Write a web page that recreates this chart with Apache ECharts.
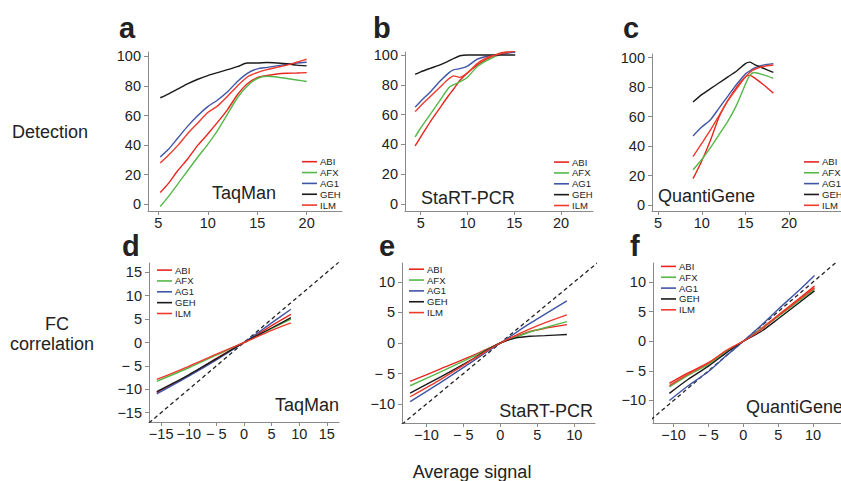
<!DOCTYPE html>
<html>
<head>
<meta charset="utf-8">
<script src="https://cdn.jsdelivr.net/npm/echarts@6/dist/echarts.min.js"></script>
<style>html,body{margin:0;padding:0;background:#fff}#c{width:841px;height:481px}</style>
</head>
<body>
<div id="c"></div>
<script>
// ---------- data ----------
const platforms = ['ABI', 'AFX', 'AG1', 'GEH', 'ILM'];

// a: TaqMan detection
const aX   = [5.2, 6, 7, 8, 9, 10, 11, 12, 13, 14, 15, 16, 17, 18, 19, 20];
const aABI = [8, 14, 23, 31, 40, 47.5, 55.5, 64, 74, 81.5, 85.5, 87, 88, 88.5, 88.7, 89];
const aAFX = [-1.5, 5, 14, 23, 32, 40.5, 50, 61, 72, 80, 85, 86.5, 86, 85, 84, 83];
const aAG1 = [32, 37, 45, 53, 60, 66, 70.5, 76, 83, 88.5, 91.5, 92.5, 93.5, 94.5, 95.5, 96];
const aGEH = [72, 74.5, 78, 81.5, 84.5, 87, 89, 91, 93, 95.5, 95.5, 95.8, 95.5, 95, 94, 93.5];
const aILM = [28, 33, 40, 48, 55, 62, 66.5, 73, 80, 86, 89, 91, 92.5, 94, 96, 98];

// b: StaRT-PCR detection
const bX   = [4.4, 5, 6, 7, 8, 8.5, 9.2, 10, 11, 12, 13, 14, 15.1];
const bABI = [39, 45, 55, 64, 73, 77, 83, 88, 93, 97, 100, 102, 102.5];
const bAFX = [45, 51, 60, 69, 78, 80, 82, 85, 92, 96, 99, 101.5, 102];
const bAG1 = [65, 69, 75, 82, 88, 90, 90.8, 92.5, 97, 99, 100, 101, 102];
const bGEH = [87, 88.7, 91, 93.2, 96, 97.5, 99.5, 100, 100, 100, 100, 100, 100];
const bILM = [62, 66, 72, 78, 84, 86, 85, 88, 94, 98, 100, 101.5, 102.5];

// c: QuantiGene detection
const cX   = [9, 10, 11, 12, 13, 14, 15, 15.5, 16, 17, 18.2];
const cABI = [18, 30, 44, 60, 71, 80, 87, 88, 86.5, 82, 76];
const cAFX = [24, 31, 39, 48, 57, 68, 82, 88, 90, 88.5, 86];
const cAG1 = [47, 53, 58, 66, 74, 82, 89, 91, 93, 95, 96];
const cGEH = [70, 75, 79, 83, 87, 91, 96, 97, 95.5, 93, 90];
const cILM = [33, 42, 51, 61, 71, 79, 87, 90, 92, 94, 95];

// d: TaqMan FC correlation
const dX   = [-15.8, -10, -5, 0, 5, 8.5];
const dABI = [-10.7, -7.0, -3.4, 0, 3.6, 6.0];
const dAFX = [-8.3, -5.4, -2.7, 0, 3.0, 5.0];
const dAG1 = [-11.0, -7.2, -3.7, 0, 4.2, 7.1];
const dGEH = [-10.5, -6.9, -3.5, 0, 3.1, 5.3];
const dILM = [-7.9, -5.1, -2.5, 0, 2.6, 4.2];

// e: StaRT-PCR FC correlation
const eX   = [-12.2, -8, -4, -2, 0, 2, 4, 6, 9];
const eABI = [-6.3, -4.2, -2.2, -1.1, 0, 1.0, 1.9, 2.4, 3.0];
const eAFX = [-7.0, -4.7, -2.4, -1.2, 0, 0.9, 1.8, 2.5, 3.5];
const eAG1 = [-9.6, -6.4, -3.2, -1.6, 0, 1.6, 3.2, 4.7, 6.9];
const eGEH = [-8.2, -5.5, -2.8, -1.3, 0, 0.8, 1.1, 1.2, 1.4];
const eILM = [-8.8, -5.9, -2.9, -1.4, 0, 1.2, 2.3, 3.3, 4.6];

// f: QuantiGene FC correlation
const fX   = [-10.6, -8, -5, -2.5, 0, 2.5, 5, 8, 10.2];
const fABI = [-7.1, -5.4, -3.6, -1.7, 0, 2.1, 4.4, 7.2, 9.3];
const fAFX = [-7.7, -5.8, -3.9, -1.8, 0, 2.0, 4.2, 6.8, 8.8];
const fAG1 = [-10, -7.6, -5.1, -2.5, 0, 2.6, 5.4, 8.6, 11.1];
const fGEH = [-8.8, -6.5, -4.2, -2.0, 0, 1.6, 3.8, 6.5, 8.5];
const fILM = [-7.5, -5.6, -3.7, -1.6, 0, 1.9, 4.3, 7.0, 9.0];

// identity (y = x) reference line ends
const dDiag = [-17.2, 17.2];
const eDiag = [-13.3, 13.3];
const fDiag = [-14, 14];

// tick values / labels
const topXTicks = [5, 10, 15, 20];
const topYTicks = [0, 20, 40, 60, 80, 100];
const dTicks = [-15, -10, -5, 0, 5, 10, 15];
const dTickLabels = ['\u221215', '\u221210', '\u2212 5', '0', '5', '10', '15'];
const efTicks = [-10, -5, 0, 5, 10];
const efTickLabels = ['\u221210', '\u2212 5', '0', '5', '10'];

const panelNames = ['TaqMan', 'StaRT-PCR', 'QuantiGene'];
const panelLetters = ['a', 'b', 'c', 'd', 'e', 'f'];

// ---------- styling / layout ----------
const FONT = "'Liberation Sans', Arial, Helvetica, sans-serif";
const TXT = '#222';
const AX = '#8a8a8a';
const colors = { ABI: '#e8261f', AFX: '#55b848', AG1: '#3f55a6', GEH: '#1a1a1a', ILM: '#ef3a2c' };

const layout = [
  { left: 148, top: 52, width: 194, height: 159, xr: [3.96, 23.57], yr: [-4.5, 102.9] },
  { left: 405, top: 52, width: 188, height: 159, xr: [3.32, 23.42], yr: [-4.7, 102] },
  { left: 652, top: 54, width: 218, height: 157, xr: [4.3, 25.95], yr: [-3.9, 102.5] },
  { left: 149, top: 263, width: 190, height: 159, xr: [-17.2, 17.2], yr: [-17, 17] },
  { left: 402, top: 263, width: 193, height: 160, xr: [-13.3, 12.8], yr: [-13.1, 13.1] },
  { left: 653, top: 263, width: 204, height: 160, xr: [-12.95, 14], yr: [-13.8, 13.2] }
];

const panelData = [
  { X: aX, v: { ABI: aABI, AFX: aAFX, AG1: aAG1, GEH: aGEH, ILM: aILM } },
  { X: bX, v: { ABI: bABI, AFX: bAFX, AG1: bAG1, GEH: bGEH, ILM: bILM } },
  { X: cX, v: { ABI: cABI, AFX: cAFX, AG1: cAG1, GEH: cGEH, ILM: cILM } },
  { X: dX, v: { ABI: dABI, AFX: dAFX, AG1: dAG1, GEH: dGEH, ILM: dILM }, diag: dDiag },
  { X: eX, v: { ABI: eABI, AFX: eAFX, AG1: eAG1, GEH: eGEH, ILM: eILM }, diag: eDiag },
  { X: fX, v: { ABI: fABI, AFX: fAFX, AG1: fAG1, GEH: fGEH, ILM: fILM }, diag: fDiag }
];

const tickSets = [
  { x: topXTicks, xl: topXTicks.map(String), y: topYTicks, yl: topYTicks.map(String) },
  { x: topXTicks, xl: topXTicks.map(String), y: topYTicks, yl: topYTicks.map(String) },
  { x: topXTicks, xl: topXTicks.map(String), y: topYTicks, yl: topYTicks.map(String) },
  { x: dTicks, xl: dTickLabels, y: dTicks, yl: dTickLabels },
  { x: efTicks, xl: efTickLabels, y: efTicks, yl: efTickLabels },
  { x: efTicks, xl: efTickLabels, y: efTicks, yl: efTickLabels }
];

const legendPos = [
  { left: 302, top: 156.7 }, { left: 554, top: 157.1 }, { left: 804, top: 156.9 },
  { left: 157, top: 265.1 }, { left: 409, top: 264.2 }, { left: 661, top: 261.4 }
];

function axis(i, dim) {
  const L = layout[i], T = tickSets[i];
  const r = dim === 'x' ? L.xr : L.yr;
  const vals = dim === 'x' ? T.x : T.y;
  const labs = dim === 'x' ? T.xl : T.yl;
  return {
    type: 'value', gridIndex: i, min: r[0], max: r[1],
    splitLine: { show: false },
    axisLine: { show: true, onZero: false, lineStyle: { color: AX, width: 1 } },
    axisTick: { show: true, length: 4, customValues: vals, lineStyle: { color: AX, width: 1 } },
    axisLabel: {
      customValues: vals, color: TXT, fontSize: 14.5, fontFamily: FONT,
      margin: dim === 'x' ? 4 : 7,
      formatter: v => { const k = vals.findIndex(t => Math.abs(t - v) < 1e-6); return k >= 0 ? labs[k] : ''; }
    }
  };
}

const grids = [], xAxes = [], yAxes = [], series = [], legends = [];
layout.forEach((L, i) => {
  grids.push({ left: L.left, top: L.top, width: L.width, height: L.height, containLabel: false });
  xAxes.push(axis(i, 'x'));
  yAxes.push(axis(i, 'y'));
  const P = panelData[i];
  if (P.diag) {
    series.push({
      type: 'line', name: 'y = x', xAxisIndex: i, yAxisIndex: i, showSymbol: false, silent: true,
      data: P.diag.map(v => [v, v]), z: 1,
      lineStyle: { color: '#222', width: 1.3, type: [4, 3] }
    });
  }
  platforms.forEach(p => {
    series.push({
      type: 'line', name: p, xAxisIndex: i, yAxisIndex: i, showSymbol: false, smooth: 0.25,
      data: P.X.map((x, k) => [x, P.v[p][k]]), z: 2,
      itemStyle: { color: colors[p] },
      lineStyle: { color: colors[p], width: 1.4 }
    });
  });
  legends.push({
    data: platforms, orient: 'vertical', left: legendPos[i].left, top: legendPos[i].top,
    padding: 0, itemGap: 0.85, itemWidth: 15, itemHeight: 1.6, icon: 'rect',
    selectedMode: false,
    textStyle: { fontSize: 9.5, lineHeight: 9.75, color: TXT, fontFamily: FONT, padding: [0, 0, 0, -2] }
  });
});

function txt(text, x, y, size, opts) {
  return {
    type: 'text', x: x, y: y, silent: true,
    style: Object.assign({ text: text, fill: TXT, font: size + 'px ' + FONT, textAlign: 'left', textVerticalAlign: 'middle' }, opts || {})
  };
}
function bold(text, x, y) {
  return txt(text, x, y, 29, { font: 'bold 29px ' + FONT });
}

const graphics = [
  bold(panelLetters[0], 119, 28), bold(panelLetters[1], 373, 28), bold(panelLetters[2], 623, 28),
  bold(panelLetters[3], 122, 246), bold(panelLetters[4], 379, 246), bold(panelLetters[5], 630, 246),
  txt(panelNames[0], 212, 192.5, 18), txt(panelNames[1], 421, 197.5, 18), txt(panelNames[2], 658, 195.5, 18),
  txt(panelNames[0], 339, 404.5, 18, { textAlign: 'right' }),
  txt(panelNames[1], 593, 410.5, 18, { textAlign: 'right' }),
  txt(panelNames[2], 746, 406.5, 18),
  txt('Detection', 50, 131.5, 18, { textAlign: 'center' }),
  txt('FC', 57, 323.5, 18, { textAlign: 'center' }),
  txt('correlation', 52, 343.5, 18, { textAlign: 'center' }),
  txt('Average signal', 472, 471.5, 18, { textAlign: 'center' })
];

const chart = echarts.init(document.getElementById('c'), null, { renderer: 'svg', width: 841, height: 481 });
chart.setOption({
  animation: false,
  backgroundColor: '#fff',
  textStyle: { fontFamily: FONT },
  grid: grids, xAxis: xAxes, yAxis: yAxes, series: series, legend: legends,
  graphic: graphics
});
</script>
</body>
</html>
